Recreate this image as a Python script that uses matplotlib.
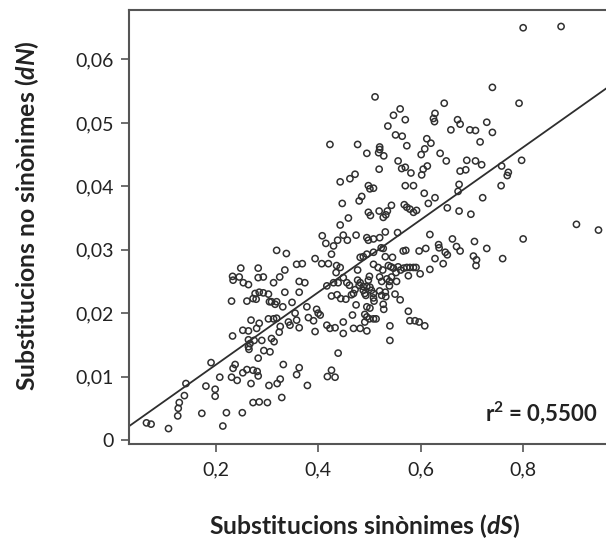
import numpy as np
import matplotlib.pyplot as plt

# dS / dN values
ds = [0.800, 0.874, 0.740, 0.792, 0.511, 0.904, 0.947, 0.800, 0.797, 0.646,
      0.628, 0.625, 0.627, 0.560, 0.547, 0.570, 0.536, 0.551, 0.564, 0.672,
      0.677, 0.659, 0.729, 0.696, 0.707, 0.740, 0.612, 0.620, 0.716, 0.423,
      0.477, 0.520, 0.520, 0.573, 0.608, 0.495, 0.518, 0.528, 0.601, 0.638,
      0.556, 0.650, 0.690, 0.707, 0.719, 0.563, 0.570, 0.519, 0.613, 0.605,
      0.602, 0.581, 0.677, 0.688, 0.758, 0.771, 0.769, 0.472, 0.462, 0.443,
      0.498, 0.501, 0.508, 0.570, 0.586, 0.675, 0.673, 0.757, 0.607, 0.628,
      0.721, 0.485, 0.480, 0.447, 0.568, 0.573, 0.579, 0.592, 0.586, 0.615,
      0.652, 0.675, 0.519, 0.535, 0.543, 0.498, 0.502, 0.527, 0.532, 0.698,
      0.459, 0.443, 0.531, 0.555, 0.618, 0.408, 0.449, 0.457, 0.474, 0.438,
      0.415, 0.430, 0.495, 0.498, 0.508, 0.520, 0.662, 0.705, 0.635, 0.636,
      0.319, 0.338, 0.426, 0.523, 0.527, 0.508, 0.495, 0.566, 0.571, 0.597,
      0.610, 0.670, 0.677, 0.648, 0.652, 0.729, 0.628, 0.644, 0.703, 0.709,
      0.708, 0.760, 0.531, 0.545, 0.482, 0.488, 0.394, 0.407, 0.420, 0.358,
      0.369, 0.335, 0.283, 0.249, 0.436, 0.443, 0.477, 0.508, 0.517, 0.526,
      0.537, 0.542, 0.547, 0.552, 0.556, 0.561, 0.567, 0.573, 0.579, 0.586,
      0.591, 0.618, 0.599, 0.576, 0.233, 0.246, 0.234, 0.293, 0.283, 0.325,
      0.254, 0.264, 0.313, 0.363, 0.374, 0.435, 0.449, 0.456, 0.461, 0.477,
      0.482, 0.480, 0.500, 0.498, 0.520, 0.524, 0.534, 0.543, 0.539, 0.553,
      0.430, 0.439, 0.417, 0.488, 0.495, 0.501, 0.472, 0.469, 0.488, 0.491,
      0.493, 0.504, 0.508, 0.520, 0.524, 0.539, 0.531, 0.532, 0.550, 0.560,
      0.277, 0.285, 0.293, 0.273, 0.279, 0.303, 0.305, 0.231, 0.261, 0.335,
      0.363, 0.309, 0.316, 0.319, 0.349, 0.331, 0.378, 0.397, 0.426, 0.437,
      0.444, 0.454, 0.465, 0.474, 0.495, 0.501, 0.508, 0.509, 0.527, 0.528,
      0.576, 0.355, 0.400, 0.404, 0.467, 0.491, 0.495, 0.500, 0.508, 0.513,
      0.491, 0.269, 0.303, 0.313, 0.319, 0.285, 0.342, 0.345, 0.358, 0.381,
      0.391, 0.579, 0.589, 0.597, 0.449, 0.417, 0.423, 0.433, 0.326, 0.324,
      0.363, 0.280, 0.264, 0.253, 0.233, 0.394, 0.469, 0.482, 0.495, 0.449,
      0.540, 0.608, 0.540, 0.264, 0.267, 0.275, 0.290, 0.309, 0.314, 0.264,
      0.265, 0.294, 0.306, 0.439, 0.283, 0.191, 0.238, 0.234, 0.332, 0.363,
      0.358, 0.261, 0.253, 0.273, 0.281, 0.283, 0.231, 0.242, 0.208, 0.326,
      0.320, 0.426, 0.418, 0.433, 0.142, 0.181, 0.199, 0.199, 0.269, 0.304,
      0.379, 0.139, 0.329, 0.129, 0.127, 0.126, 0.273, 0.285, 0.301, 0.173,
      0.221, 0.252, 0.065, 0.074, 0.108, 0.214]

dn = [0.0650, 0.0652, 0.0556, 0.0531, 0.0541, 0.0340, 0.0331, 0.0317, 0.0441, 0.0531,
      0.0515, 0.0507, 0.0502, 0.0522, 0.0512, 0.0505, 0.0495, 0.0481, 0.0479, 0.0505,
      0.0498, 0.0489, 0.0501, 0.0489, 0.0488, 0.0485, 0.0475, 0.0468, 0.0470, 0.0466,
      0.0466, 0.0462, 0.0458, 0.0464, 0.0459, 0.0452, 0.0453, 0.0448, 0.0450, 0.0452,
      0.0440, 0.0440, 0.0441, 0.0440, 0.0434, 0.0428, 0.0430, 0.0427, 0.0432, 0.0427,
      0.0418, 0.0421, 0.0424, 0.0426, 0.0432, 0.0422, 0.0417, 0.0419, 0.0412, 0.0407,
      0.0401, 0.0396, 0.0397, 0.0401, 0.0401, 0.0403, 0.0392, 0.0401, 0.0389, 0.0382,
      0.0382, 0.0384, 0.0377, 0.0373, 0.0371, 0.0367, 0.0364, 0.0362, 0.0359, 0.0373,
      0.0366, 0.0361, 0.0361, 0.0361, 0.0370, 0.0359, 0.0354, 0.0351, 0.0355, 0.0356,
      0.0350, 0.0339, 0.0328, 0.0327, 0.0324, 0.0322, 0.0323, 0.0315, 0.0323, 0.0315,
      0.0310, 0.0306, 0.0319, 0.0315, 0.0317, 0.0319, 0.0317, 0.0313, 0.0308, 0.0303,
      0.0299, 0.0294, 0.0293, 0.0303, 0.0302, 0.0296, 0.0293, 0.0298, 0.0299, 0.0298,
      0.0302, 0.0305, 0.0298, 0.0296, 0.0292, 0.0302, 0.0286, 0.0278, 0.0290, 0.0284,
      0.0275, 0.0286, 0.0289, 0.0288, 0.0288, 0.0289, 0.0286, 0.0278, 0.0278, 0.0277,
      0.0278, 0.0268, 0.0271, 0.0271, 0.0275, 0.0272, 0.0268, 0.0277, 0.0272, 0.0268,
      0.0275, 0.0273, 0.0271, 0.0264, 0.0273, 0.0268, 0.0271, 0.0272, 0.0272, 0.0272,
      0.0272, 0.0269, 0.0262, 0.0259, 0.0258, 0.0257, 0.0252, 0.0257, 0.0256, 0.0257,
      0.0248, 0.0245, 0.0248, 0.0250, 0.0248, 0.0264, 0.0256, 0.0248, 0.0244, 0.0252,
      0.0248, 0.0244, 0.0258, 0.0252, 0.0257, 0.0250, 0.0254, 0.0257, 0.0250, 0.0250,
      0.0248, 0.0248, 0.0243, 0.0242, 0.0242, 0.0241, 0.0237, 0.0231, 0.0236, 0.0231,
      0.0228, 0.0236, 0.0231, 0.0235, 0.0228, 0.0243, 0.0233, 0.0226, 0.0230, 0.0221,
      0.0231, 0.0233, 0.0232, 0.0223, 0.0222, 0.0230, 0.0218, 0.0219, 0.0219, 0.0233,
      0.0233, 0.0218, 0.0214, 0.0218, 0.0217, 0.0210, 0.0210, 0.0206, 0.0227, 0.0229,
      0.0223, 0.0222, 0.0229, 0.0213, 0.0210, 0.0208, 0.0224, 0.0219, 0.0214, 0.0206,
      0.0203, 0.0200, 0.0200, 0.0197, 0.0197, 0.0198, 0.0194, 0.0191, 0.0191, 0.0191,
      0.0186, 0.0189, 0.0191, 0.0191, 0.0192, 0.0184, 0.0186, 0.0181, 0.0189, 0.0193,
      0.0188, 0.0188, 0.0188, 0.0186, 0.0186, 0.0181, 0.0176, 0.0177, 0.0179, 0.0170,
      0.0177, 0.0176, 0.0172, 0.0173, 0.0164, 0.0171, 0.0176, 0.0176, 0.0172, 0.0168,
      0.0180, 0.0180, 0.0157, 0.0158, 0.0152, 0.0157, 0.0157, 0.0160, 0.0155, 0.0147,
      0.0143, 0.0141, 0.0139, 0.0137, 0.0129, 0.0122, 0.0119, 0.0113, 0.0119, 0.0114,
      0.0103, 0.0111, 0.0106, 0.0110, 0.0108, 0.0101, 0.0099, 0.0094, 0.0099, 0.0096,
      0.0089, 0.0110, 0.0100, 0.0099, 0.0089, 0.0085, 0.0080, 0.0069, 0.0089, 0.0086,
      0.0086, 0.0070, 0.0067, 0.0059, 0.0050, 0.0038, 0.0059, 0.0060, 0.0059, 0.0042,
      0.0043, 0.0043, 0.0027, 0.0025, 0.0018, 0.0022]

# regression line shown in the figure
fit_slope = 0.0572
fit_intercept = 0.0004
r2_text = "0,5500"

xticks = [0.2, 0.4, 0.6, 0.8]
xtick_labels = ["0,2", "0,4", "0,6", "0,8"]
yticks = [0, 0.01, 0.02, 0.03, 0.04, 0.05, 0.06]
ytick_labels = ["0", "0,01", "0,02", "0,03", "0,04", "0,05", "0,06"]

plt.rcParams['font.family'] = ['Lato', 'DejaVu Sans']
plt.rcParams['mathtext.fontset'] = 'custom'
plt.rcParams['mathtext.rm'] = 'Lato'
plt.rcParams['mathtext.bf'] = 'Lato:bold'
plt.rcParams['mathtext.bfit'] = 'Lato:italic:bold'

W, H = 606, 540
fig = plt.figure(figsize=(W / 100, H / 100), dpi=100)
ax = fig.add_axes([129.3 / W, 95.7 / H, 482 / W, 434.3 / H])

ax.scatter(ds, dn, s=20, facecolors='none', edgecolors='#303030', linewidths=1.1, zorder=3)

xmin, xmax = 0.0315, 0.9720
xline = np.array([xmin, xmax])
ax.plot(xline, fit_intercept + fit_slope * xline, color='#2e2e2e', lw=1.3, zorder=2)

ax.set_xlim(xmin, xmax)
ax.set_ylim(-0.00068, 0.0678)

ax.set_xticks(xticks)
ax.set_xticklabels(xtick_labels)
ax.set_yticks(yticks)
ax.set_yticklabels(ytick_labels)
ax.tick_params(axis='both', direction='out', length=6, width=1.2, color='#555555',
               labelsize=14, labelcolor='#222222')
ax.tick_params(axis='x', pad=6)
ax.tick_params(axis='y', pad=5)

for side in ['left', 'bottom', 'top']:
    ax.spines[side].set_color('#555555')
    ax.spines[side].set_linewidth(1.5)
ax.spines['right'].set_visible(False)

# axis titles placed in figure pixels to match the reference layout
fig.text(365 / W, 1 - 534 / H, "Substitucions sinònimes ($\\mathbfit{dS}$)", fontsize=17.8,
         fontweight='bold', ha='center', va='baseline', color='#222222')
fig.text(27 / W, 1 - 216 / H, "Substitucions no sinònimes ($\\mathbfit{dN}$)", fontsize=17.8,
         fontweight='bold', ha='center', va='center', rotation=90, color='#222222')

fig.text(598 / W, 1 - 413 / H, "r$^{\\mathbf{2}}$ = " + r2_text, fontsize=16,
         fontweight='bold', ha='right', va='center', color='#222222')

fig.savefig("out.png", dpi=100)
